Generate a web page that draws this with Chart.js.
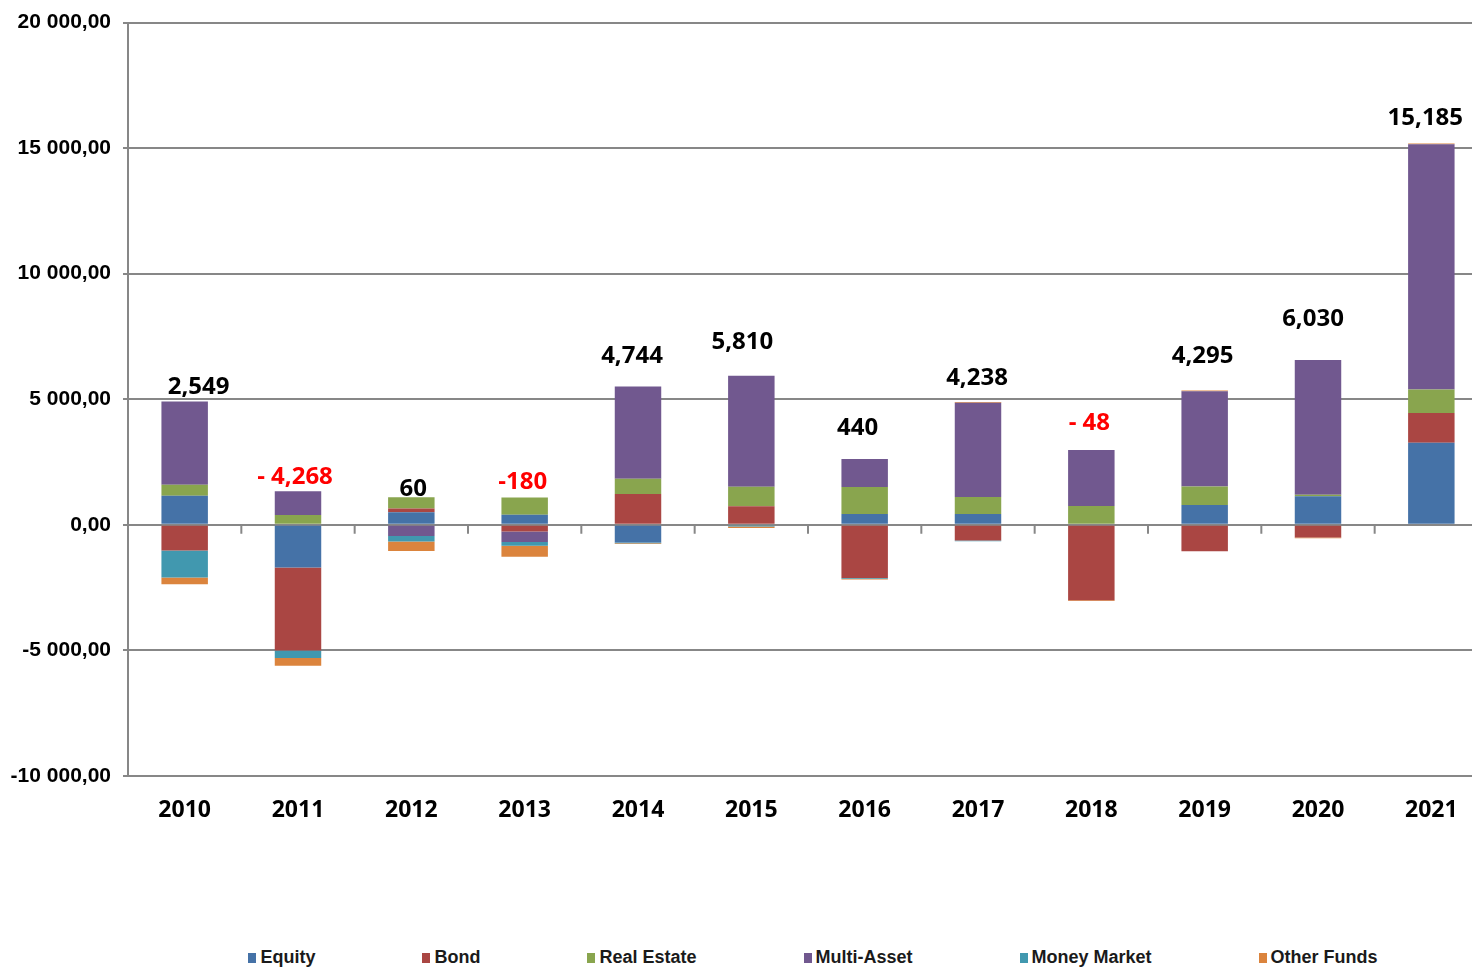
<!DOCTYPE html>
<html>
<head>
<meta charset="utf-8">
<title>Net flows by fund type</title>
<script src="https://cdn.jsdelivr.net/npm/chart.js@4/dist/chart.umd.min.js"></script>
<style>
  body { margin: 0; background: #fff; }
  #wrap { position: relative; width: 1472px; height: 968px; overflow: hidden; }
  /* plot runs a little past the right edge, like the original sheet */
  #chartBox { position: absolute; left: 0; top: 0; width: 1488px; height: 930px; }
  #legend {
    position: absolute; left: 154px; right: 0; top: 947px;
    display: flex; justify-content: center; gap: 107px;
    font: bold 18px 'Liberation Sans Narrow', 'Liberation Sans', Arial, sans-serif;
    color: #1a1a1a;
  }
  .item { display: flex; align-items: center; }
  .swatch { width: 8px; height: 10px; margin-right: 4px; }
</style>
</head>
<body>
<div id="wrap">
  <div id="chartBox"><canvas id="myChart"></canvas></div>
  <div id="legend"></div>
</div>
<script>
// categories
const years = ['2010', '2011', '2012', '2013', '2014', '2015', '2016', '2017', '2018', '2019', '2020', '2021'];

// net flows per fund type
const equity      = [1160, -1700, 500, 400, -706, 0, 430, 430, 0, 790, 1140, 3270];
const bond        = [-1020, -3300, 150, -270, 1230, 740, -2120, -620, -3000, -1055, -500, 1180];
const realEstate  = [440, 390, 450, 690, 600, 780, 1080, 680, 750, 740, 60, 940];
const multiAsset  = [3310, 950, -440, -410, 3680, 4420, 1110, 3750, 2230, 3790, 5360, 9765];
const moneyMarket = [-1080, -300, -220, -150, -30, -70, -30, -32, 0, 0, 0, 0];
const otherFunds  = [-261, -308, -380, -440, -30, -60, -30, 30, -28, 30, -30, 30];

// total per year, and how it is written above the bar
const netTotals   = [2549, -4268, 60, -180, 4744, 5810, 440, 4238, -48, 4295, 6030, 15185];
const totalLabels = ['2,549', '- 4,268', '60', '-180', '4,744', '5,810', '440', '4,238', '- 48', '4,295', '6,030', '15,185'];

// y axis ticks
const yTicks = [-10000, -5000, 0, 5000, 10000, 15000, 20000];

const series = [
  { label: 'Equity', data: equity, color: '#4572A7' },
  { label: 'Bond', data: bond, color: '#AA4643' },
  { label: 'Real Estate', data: realEstate, color: '#89A54E' },
  { label: 'Multi-Asset', data: multiAsset, color: '#71588F' },
  { label: 'Money Market', data: moneyMarket, color: '#4198AF' },
  { label: 'Other Funds', data: otherFunds, color: '#DB843D' }
];

// where each total label sits relative to its bar (px): up, and sideways
const labelLift  = [14, 14, 8, 15, 30, 33, 31, 24, 27, 34, 41, 25];
const labelNudge = [14, -3, 2, -2, -6, -9, -7, -1, -2, -2, -5, -6];

function fmtAxis(v) {
  if (v === 0) return '0,00';
  const s = Math.abs(v).toString().replace(/\B(?=(\d{3})+(?!\d))/g, ' ');
  return (v < 0 ? '-' : '') + s + ',00';
}

// small tick marks on the zero line between the years
const zeroTicks = {
  id: 'zeroTicks',
  beforeDatasetsDraw(chart) {
    const { ctx, scales: { x, y } } = chart;
    const y0 = y.getPixelForValue(0);
    ctx.save();
    ctx.strokeStyle = '#878787';
    ctx.lineWidth = 2;
    ctx.beginPath();
    for (let i = 1; i < years.length; i++) {
      const xb = (x.getPixelForValue(i - 1) + x.getPixelForValue(i)) / 2;
      ctx.moveTo(xb, y0);
      ctx.lineTo(xb, y0 + 9);
    }
    ctx.stroke();
    ctx.restore();
  }
};

// net total written above each stack
const totalsPlugin = {
  id: 'totals',
  afterDatasetsDraw(chart) {
    const { ctx, scales: { x, y } } = chart;
    ctx.save();
    ctx.font = "bold 24px 'Open Sans', 'Noto Sans', sans-serif";
    ctx.textAlign = 'center';
    ctx.textBaseline = 'middle';
    for (let i = 0; i < years.length; i++) {
      let posSum = 0;
      for (const s of series) {
        if (s.data[i] > 0) posSum += s.data[i];
      }
      const top = y.getPixelForValue(posSum);
      ctx.fillStyle = netTotals[i] < 0 ? '#FF0000' : '#000000';
      ctx.fillText(totalLabels[i], x.getPixelForValue(i) + labelNudge[i], top - labelLift[i]);
    }
    ctx.restore();
  }
};

const ctx = document.querySelector('#myChart');

new Chart(ctx, {
  type: 'bar',
  data: {
    labels: years,
    datasets: series.map(s => ({
      label: s.label,
      data: s.data,
      backgroundColor: s.color,
      borderWidth: 0,
      categoryPercentage: 1,
      barPercentage: 0.41
    }))
  },
  options: {
    responsive: true,
    maintainAspectRatio: false,
    animation: false,
    layout: { padding: { top: 22, right: 0, left: 0, bottom: 0 } },
    plugins: {
      legend: { display: false },
      tooltip: { enabled: false }
    },
    scales: {
      x: {
        stacked: true,
        offset: true,
        grid: { display: false, drawTicks: false },
        border: { display: false },
        ticks: {
          color: '#000',
          padding: 21,
          font: { family: "'Open Sans', 'Noto Sans', sans-serif", size: 23, weight: 'bold' }
        },
        afterFit(scale) { scale.height = 154; }
      },
      y: {
        stacked: true,
        min: -10000,
        max: 20000,
        afterBuildTicks(scale) { scale.ticks = yTicks.map(v => ({ value: v })); },
        grid: { color: '#878787', lineWidth: 2, tickLength: 5, tickColor: '#878787' },
        border: { display: true, color: '#878787', width: 2 },
        ticks: {
          color: '#000',
          padding: 12,
          font: { family: "'Liberation Sans', Arial, sans-serif", size: 21, weight: 'bold', lineHeight: 1 },
          callback: v => fmtAxis(v)
        },
        afterFit(scale) { scale.width = 128; }
      }
    }
  },
  plugins: [zeroTicks, totalsPlugin]
});

// legend row under the chart
const legendBox = document.querySelector('#legend');
for (const s of series) {
  const item = document.createElement('div');
  item.className = 'item';
  item.innerHTML = `<span class="swatch" style="background:${s.color}"></span>${s.label}`;
  legendBox.appendChild(item);
}
</script>
</body>
</html>
